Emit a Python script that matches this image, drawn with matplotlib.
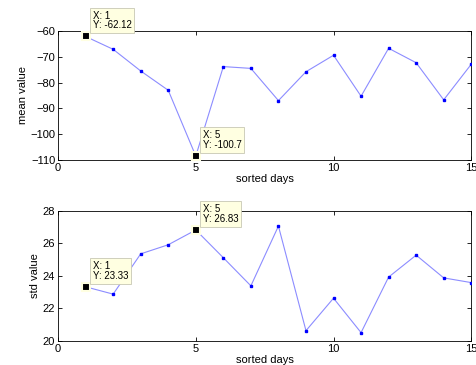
import matplotlib
matplotlib.use('Agg')
import matplotlib.pyplot as plt
import numpy as np

days = np.arange(1, 16)
mean_vals = [-62.12, -67.1, -75.5, -83.0, -108.5, -73.8, -74.5, -87.0,
             -75.8, -69.4, -85.3, -66.7, -72.3, -86.7, -72.9]
std_vals = [23.33, 22.88, 25.36, 25.92, 26.83, 25.12, 23.39, 27.07,
            20.63, 22.63, 20.51, 23.93, 25.28, 23.88, 23.59]

# datatips: (index, shown text)
mean_tips = [(0, 'X: 1\nY: -62.12'), (4, 'X: 5\nY: -100.7')]
std_tips = [(0, 'X: 1\nY: 23.33'), (4, 'X: 5\nY: 26.83')]

plt.rcParams['font.family'] = ['Liberation Sans', 'DejaVu Sans']
line_col = '#8c8cff'
tip_bg = '#ffffe1'

fig = plt.figure(figsize=(4.76, 3.65), dpi=100)
ax1 = fig.add_axes([0.122, 0.562, 0.868, 0.353])
ax2 = fig.add_axes([0.122, 0.066, 0.868, 0.356])


def draw(ax, y, tips, ylim, yticks, ylabel):
    ax.plot(days, y, '-', color=line_col, lw=0.8, zorder=2)
    ax.plot(days, y, 's', color='#0000ff', ms=1.8, zorder=3)
    for i, txt in tips:
        ax.plot(days[i], y[i], 's', mfc='black', mec=tip_bg, mew=1.5,
                ms=5.5, zorder=5, clip_on=False)
        ax.annotate(txt, (days[i], y[i]), xytext=(7, 6),
                    textcoords='offset pixels', ha='left', va='bottom',
                    fontsize=7, linespacing=0.95, zorder=6,
                    annotation_clip=False,
                    bbox=dict(boxstyle='square,pad=0.3', fc=tip_bg,
                              ec='#c8c8b4', lw=0.6))
    ax.set_xlim(0, 15)
    ax.set_ylim(*ylim)
    ax.set_xticks([0, 5, 10, 15])
    ax.set_yticks(yticks)
    ax.tick_params(direction='in', top=True, right=True, labelsize=8,
                   length=3, width=0.6, pad=2)
    for s in ax.spines.values():
        s.set_linewidth(0.6)
    ax.set_xlabel('sorted days', fontsize=8, labelpad=1)
    ax.set_ylabel(ylabel, fontsize=8, labelpad=2)


draw(ax1, mean_vals, mean_tips, (-110, -60), [-110, -100, -90, -80, -70, -60],
     'mean value')
ax1.set_yticklabels(['\u2212110', '\u2212100', '\u221290', '\u221280',
                     '\u221270', '\u221260'])
draw(ax2, std_vals, std_tips, (20, 28), [20, 22, 24, 26, 28], 'std value')

fig.savefig('out.png', dpi=100)
